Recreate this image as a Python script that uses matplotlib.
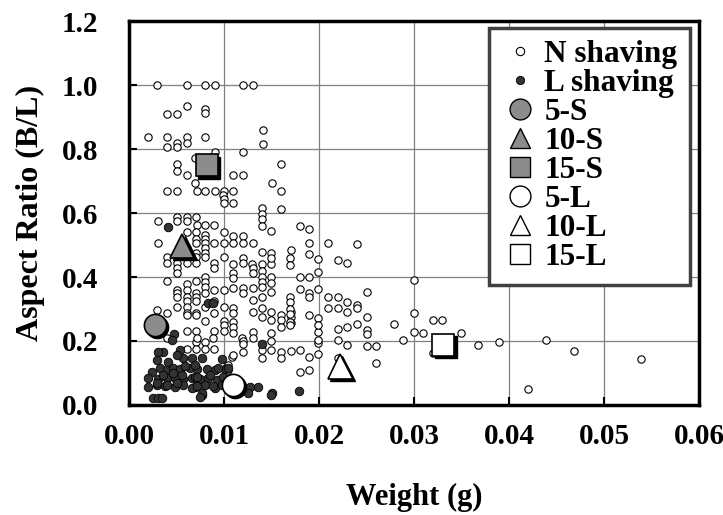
import matplotlib
matplotlib.use('Agg')
import matplotlib.pyplot as plt
import matplotlib.transforms as mtransforms
from matplotlib.lines import Line2D
from matplotlib.ticker import MultipleLocator, FormatStrFormatter

# N shaving (weight g, aspect ratio B/L)
n_shaving = [
    (0.0029, 1.0), (0.0061, 1.0), (0.0080, 1.0), (0.0091, 1.0), (0.0120, 1.0), (0.0131, 1.0),
    (0.0040, 0.91), (0.0051, 0.91), (0.0061, 0.935), (0.0080, 0.925), (0.0080, 0.912),
    (0.0020, 0.8375), (0.0040, 0.8375), (0.0061, 0.8375), (0.0080, 0.8375), (0.0051, 0.82),
    (0.0061, 0.82), (0.0040, 0.805), (0.0051, 0.805), (0.0141, 0.86), (0.0141, 0.816),
    (0.0091, 0.79), (0.0120, 0.79), (0.0069, 0.772), (0.0051, 0.754), (0.0051, 0.731),
    (0.0061, 0.72), (0.0069, 0.694), (0.0109, 0.72), (0.0120, 0.72), (0.0160, 0.753),
    (0.0151, 0.694), (0.0160, 0.669),
    (0.0040, 0.669), (0.0051, 0.669), (0.0072, 0.669), (0.0080, 0.669), (0.0091, 0.669),
    (0.0100, 0.669), (0.0109, 0.669), (0.0099, 0.656), (0.0100, 0.644), (0.0100, 0.631),
    (0.0109, 0.631), (0.0160, 0.6125), (0.0140, 0.615), (0.0140, 0.597), (0.0140, 0.58),
    (0.0140, 0.56), (0.0149, 0.544), (0.0180, 0.56), (0.0189, 0.55), (0.0189, 0.506),
    (0.0209, 0.506), (0.0240, 0.503), (0.0171, 0.484), (0.0189, 0.472), (0.0109, 0.528),
    (0.0120, 0.528), (0.0120, 0.506), (0.0131, 0.506), (0.0140, 0.478), (0.0149, 0.475),
    (0.0120, 0.46), (0.0169, 0.46), (0.0169, 0.4375), (0.0199, 0.456), (0.0220, 0.453),
    (0.0230, 0.444),
    (0.0051, 0.5875), (0.0061, 0.5875), (0.0071, 0.5875), (0.0031, 0.575), (0.0051, 0.575),
    (0.0061, 0.575), (0.0072, 0.5625), (0.0080, 0.5625), (0.0089, 0.5625), (0.0061, 0.54),
    (0.0071, 0.54), (0.0080, 0.53), (0.0100, 0.54), (0.0080, 0.52), (0.0071, 0.52),
    (0.0031, 0.506), (0.0071, 0.506), (0.0080, 0.506), (0.0089, 0.506), (0.0100, 0.506),
    (0.0109, 0.506), (0.0061, 0.49), (0.0071, 0.475), (0.0080, 0.49), (0.0080, 0.475),
    (0.0040, 0.4625), (0.0071, 0.4625), (0.0080, 0.4625), (0.0100, 0.4625),
    (0.0040, 0.444), (0.0051, 0.444), (0.0061, 0.444), (0.0071, 0.444), (0.0089, 0.444),
    (0.0051, 0.428), (0.0089, 0.428), (0.0051, 0.4125), (0.0040, 0.3875), (0.0071, 0.3875),
    (0.0061, 0.378), (0.0080, 0.40), (0.0080, 0.384), (0.0080, 0.369),
    (0.0051, 0.36), (0.0061, 0.36), (0.0089, 0.36), (0.0100, 0.36), (0.0051, 0.35),
    (0.0071, 0.35), (0.0080, 0.35), (0.0051, 0.3375), (0.0061, 0.3375), (0.0071, 0.3375),
    (0.0061, 0.325), (0.0071, 0.325), (0.0089, 0.325), (0.0051, 0.306), (0.0061, 0.306),
    (0.0080, 0.306), (0.0100, 0.306), (0.0040, 0.2875), (0.0061, 0.2875), (0.0071, 0.2875),
    (0.0089, 0.2875), (0.0061, 0.28), (0.0071, 0.28), (0.0080, 0.2625), (0.0100, 0.2625),
    (0.0100, 0.25), (0.0089, 0.23), (0.0100, 0.23), (0.0061, 0.23), (0.0071, 0.23),
    (0.0040, 0.21), (0.0071, 0.197), (0.0080, 0.197), (0.0061, 0.175), (0.0071, 0.175),
    (0.0080, 0.175), (0.0089, 0.175), (0.0029, 0.297), (0.0072, 0.21), (0.0088, 0.21),
    (0.0119, 0.21), (0.0108, 0.15),
    (0.0109, 0.44), (0.0120, 0.444), (0.0129, 0.44), (0.0140, 0.44), (0.0149, 0.44),
    (0.0149, 0.46),
    (0.0109, 0.4125), (0.0109, 0.397), (0.0131, 0.428), (0.0131, 0.4125), (0.0140, 0.42),
    (0.0140, 0.40), (0.0140, 0.385), (0.0149, 0.40), (0.0149, 0.38),
    (0.0109, 0.366), (0.0120, 0.366), (0.0120, 0.35), (0.0131, 0.366), (0.0140, 0.369),
    (0.0140, 0.3375), (0.0149, 0.353), (0.0131, 0.328),
    (0.0109, 0.303), (0.0109, 0.2875), (0.0131, 0.29), (0.0140, 0.303), (0.0140, 0.275),
    (0.0149, 0.29), (0.0149, 0.266), (0.0160, 0.28), (0.0160, 0.266), (0.0160, 0.244),
    (0.0171, 0.29), (0.0171, 0.275), (0.0171, 0.256), (0.0109, 0.26), (0.0109, 0.244),
    (0.0109, 0.225), (0.0131, 0.228), (0.0131, 0.21), (0.0120, 0.2), (0.0120, 0.19),
    (0.0149, 0.225), (0.0149, 0.2), (0.0140, 0.172), (0.0140, 0.147), (0.0149, 0.172),
    (0.0160, 0.166), (0.0160, 0.147), (0.0171, 0.169), (0.0180, 0.172), (0.0120, 0.166),
    (0.0109, 0.156), (0.0189, 0.109), (0.0180, 0.103), (0.0199, 0.194), (0.0199, 0.228),
    (0.0199, 0.272), (0.0189, 0.28), (0.0104, 0.125), (0.0104, 0.109),
    (0.0180, 0.40), (0.0189, 0.40), (0.0199, 0.416), (0.0300, 0.39),
    (0.0180, 0.3625), (0.0189, 0.35), (0.0189, 0.3375), (0.0199, 0.3625),
    (0.0209, 0.3375), (0.0220, 0.3375), (0.0230, 0.322), (0.0240, 0.3125), (0.0251, 0.353),
    (0.0169, 0.3375), (0.0169, 0.322), (0.0209, 0.303), (0.0220, 0.303), (0.0230, 0.29),
    (0.0240, 0.303), (0.0169, 0.30), (0.0169, 0.285), (0.0169, 0.26), (0.0169, 0.25),
    (0.0199, 0.25), (0.0220, 0.2375), (0.0230, 0.244), (0.0240, 0.253), (0.0251, 0.275),
    (0.0251, 0.234), (0.0251, 0.222), (0.0279, 0.253), (0.0300, 0.2875), (0.0300, 0.228),
    (0.0309, 0.225), (0.0320, 0.266), (0.0329, 0.266), (0.0349, 0.225), (0.0288, 0.203),
    (0.0320, 0.1625), (0.0199, 0.203), (0.0220, 0.203), (0.0230, 0.1875), (0.0251, 0.184),
    (0.0260, 0.184), (0.0260, 0.131), (0.0220, 0.147), (0.0189, 0.15), (0.0199, 0.159),
    (0.0367, 0.1875), (0.0389, 0.197), (0.0439, 0.203), (0.0468, 0.169), (0.0539, 0.144),
    (0.0420, 0.05),
]

# L shaving
l_shaving = [
    (0.0047, 0.222), (0.0045, 0.203), (0.0036, 0.166), (0.0031, 0.166), (0.0054, 0.172),
    (0.0029, 0.141), (0.0041, 0.134), (0.0057, 0.147), (0.0066, 0.147), (0.0077, 0.147),
    (0.0098, 0.144), (0.0024, 0.103), (0.0033, 0.116), (0.0040, 0.109), (0.0046, 0.116),
    (0.0054, 0.113), (0.0064, 0.116), (0.0072, 0.113), (0.0082, 0.113), (0.0091, 0.109),
    (0.0101, 0.113), (0.0020, 0.084), (0.0031, 0.081), (0.0040, 0.084), (0.0048, 0.084),
    (0.0057, 0.081), (0.0066, 0.084), (0.0075, 0.081), (0.0083, 0.084), (0.0093, 0.078),
    (0.0020, 0.056), (0.0029, 0.0625), (0.0038, 0.059), (0.0048, 0.056), (0.0057, 0.0625),
    (0.0069, 0.056), (0.0080, 0.0625), (0.0091, 0.053), (0.0025, 0.022), (0.0031, 0.022),
    (0.0035, 0.022), (0.0077, 0.031),
    (0.0051, 0.156), (0.0094, 0.116), (0.0104, 0.116), (0.0059, 0.122), (0.0069, 0.125),
    (0.0036, 0.094), (0.0046, 0.10), (0.0056, 0.094), (0.0069, 0.0875), (0.0072, 0.0875),
    (0.0085, 0.094), (0.0099, 0.0875), (0.0029, 0.069), (0.0040, 0.0625), (0.0051, 0.069),
    (0.0066, 0.053), (0.0072, 0.059), (0.0088, 0.059), (0.0098, 0.0625),
    (0.0127, 0.056), (0.0136, 0.056), (0.0125, 0.0375), (0.0151, 0.0375), (0.0077, 0.0375),
    (0.0075, 0.025), (0.0140, 0.19), (0.0149, 0.03), (0.0179, 0.044),
    (0.0041, 0.556), (0.0083, 0.32), (0.0088, 0.32),
]

n_weight, n_ratio = zip(*n_shaving)
l_weight, l_ratio = zip(*l_shaving)

# large reference markers
spec_labels = ['5-S', '10-S', '15-S', '5-L', '10-L', '15-L']
spec_weight = [0.0027, 0.0056, 0.0082, 0.0109, 0.0222, 0.0331]
spec_ratio = [0.25, 0.498, 0.75, 0.0625, 0.122, 0.1875]
spec_marker = ['o', '^', 's', 'o', '^', 's']
spec_size = [16, 17, 16, 16, 18, 16]
spec_face = ['#8c8c8c'] * 3 + ['white'] * 3

plt.rcParams['font.family'] = 'Liberation Serif'
plt.rcParams['font.weight'] = 'bold'

fig = plt.figure(figsize=(7.23, 5.15), dpi=100)
ax = fig.add_axes([0.1784, 0.2136, 0.7884, 0.7456])

ax.scatter(n_weight, n_ratio, s=28, facecolor='white', edgecolor='black',
           linewidth=0.8, zorder=3)
ax.scatter(l_weight, l_ratio, s=38, facecolor='#333333', edgecolor='black',
           linewidth=0.6, zorder=4)

# big markers with a drop shadow
shadow = mtransforms.offset_copy(ax.transData, fig=fig, x=2.5, y=-2.5, units='dots')
for i in range(len(spec_labels)):
    ax.plot(spec_weight[i], spec_ratio[i], marker=spec_marker[i], ms=spec_size[i],
            color='black', transform=shadow, zorder=5)
    ax.plot(spec_weight[i], spec_ratio[i], marker=spec_marker[i], ms=spec_size[i],
            mfc=spec_face[i], mec='black', mew=1.2, zorder=6)

ax.set_xlim(0, 0.06)
ax.set_ylim(0, 1.2)
ax.xaxis.set_major_locator(MultipleLocator(0.01))
ax.yaxis.set_major_locator(MultipleLocator(0.2))
ax.xaxis.set_major_formatter(FormatStrFormatter('%.2f'))
ax.yaxis.set_major_formatter(FormatStrFormatter('%.1f'))
ax.grid(True, color='#808080', linewidth=0.9)
ax.set_axisbelow(True)
for sp in ax.spines.values():
    sp.set_linewidth(2.5)
ax.tick_params(axis='both', direction='in', length=6, width=1.5, labelsize=21)
ax.tick_params(axis='x', pad=13)
ax.tick_params(axis='y', pad=22)

ax.set_xlabel('Weight (g)', fontsize=22, fontweight='bold', labelpad=24)
ax.set_ylabel('Aspect Ratio (B/L)', fontsize=23, fontweight='bold', labelpad=12)

handles = [Line2D([], [], ls='none', marker='o', ms=6, mfc='white', mec='black', mew=0.8),
           Line2D([], [], ls='none', marker='o', ms=6, mfc='#333333', mec='black', mew=0.6)]
for i in range(len(spec_labels)):
    handles.append(Line2D([], [], ls='none', marker=spec_marker[i], ms=15,
                          mfc=spec_face[i], mec='black', mew=1.0))
leg = ax.legend(handles, ['N shaving', 'L shaving'] + spec_labels,
                loc='upper right', bbox_to_anchor=(0.984, 0.982), borderaxespad=0,
                fontsize=22.5, fancybox=False, framealpha=1, edgecolor='#404040',
                handlelength=1.2, handletextpad=0.17, labelspacing=0.0, borderpad=0.4)
leg.get_frame().set_linewidth(2.5)
leg.set_zorder(10)

fig.savefig('out.png', dpi=100)
